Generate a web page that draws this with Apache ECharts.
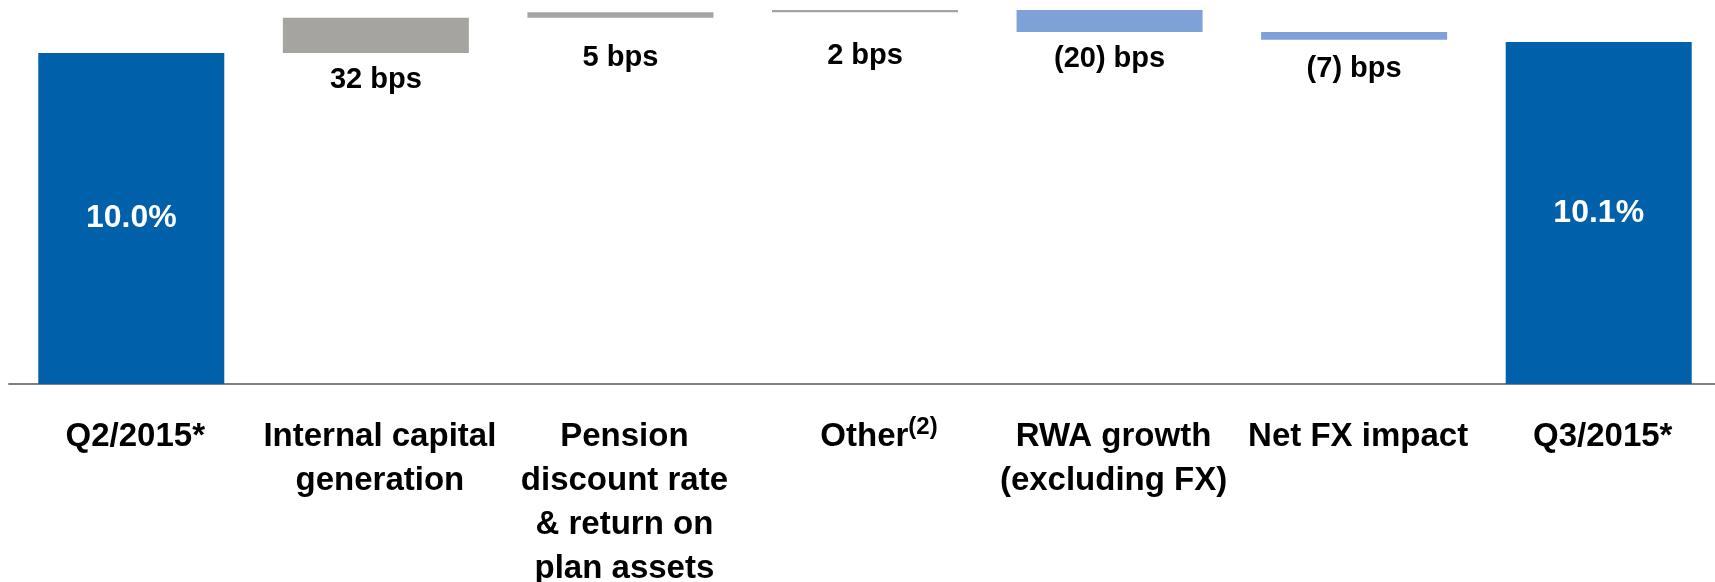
<!DOCTYPE html>
<html>
<head>
<meta charset="utf-8">
<script src="https://cdn.jsdelivr.net/npm/echarts@6/dist/echarts.min.js"></script>
<style>
  html, body { margin: 0; padding: 0; background: #ffffff; }
  #chart { width: 1715px; height: 582px; }
</style>
</head>
<body>
<div id="chart"></div>
<script>
// CET1 ratio bridge, Q2/2015 to Q3/2015
const categories = [
  'Q2/2015*',
  'Internal capital\ngeneration',
  'Pension\ndiscount rate\n& return on\nplan assets',
  'Other',
  'RWA growth\n(excluding FX)',
  'Net FX impact',
  'Q3/2015*'
];
const footnotes = { 'Other': '(2)' };

// opening and closing ratios (%)
const openingRatio = 10.0;
const closingRatio = 10.1;

// movements between the two quarters, in basis points
const movementsBps = [32, 5, 2, -20, -7];

// ---- build the floating waterfall from the arrays above ----
const COLORS = { total: '#0060a9', up: '#a5a4a1', down: '#7ea1d7' };
const FONT = 'Liberation Sans, Arial, sans-serif';
// how far each movement label sits below its bar
const labelGap = [13, 26, 29, 12, 15];

const baseData = [0];
const barData = [{
  value: openingRatio,
  itemStyle: { color: COLORS.total },
  label: {
    show: true, position: 'inside', color: '#ffffff',
    fontSize: 32, fontWeight: 'bold', fontFamily: FONT,
    formatter: () => openingRatio.toFixed(1) + '%'
  }
}];

let level = openingRatio;
movementsBps.forEach((bps, i) => {
  const delta = bps / 100;
  const next = level + delta;
  baseData.push(Math.min(level, next));
  barData.push({
    value: Math.abs(delta),
    itemStyle: { color: bps >= 0 ? COLORS.up : COLORS.down },
    label: {
      show: true, position: 'bottom', distance: labelGap[i],
      color: '#000000', fontSize: 29, fontWeight: 'bold', fontFamily: FONT,
      formatter: () => (bps >= 0 ? bps : '(' + Math.abs(bps) + ')') + ' bps'
    }
  });
  level = next;
});

baseData.push(0);
barData.push({
  value: closingRatio,
  itemStyle: { color: COLORS.total },
  label: {
    show: true, position: 'inside', color: '#ffffff',
    fontSize: 32, fontWeight: 'bold', fontFamily: FONT,
    formatter: () => closingRatio.toFixed(1) + '%'
  }
});

const chart = echarts.init(document.getElementById('chart'), null, { renderer: 'canvas' });
chart.setOption({
  animation: false,
  backgroundColor: '#ffffff',
  grid: {
    left: 9, right: -6, top: 0, bottom: 198,
    containLabel: false,
    outerBoundsMode: 'none'
  },
  xAxis: {
    type: 'category',
    data: categories,
    axisTick: { show: false },
    axisLine: { show: true, lineStyle: { color: '#808080', width: 2 } },
    axisLabel: {
      interval: 0,
      margin: 31,
      color: '#000000',
      fontSize: 33,
      fontWeight: 'bold',
      fontFamily: FONT,
      lineHeight: 44,
      padding: [0, 0, 0, 8],
      formatter: (v) => footnotes[v] ? '{main|' + v + '}{sup|' + footnotes[v] + '}' : v,
      rich: {
        main: {
          fontSize: 33, fontWeight: 'bold', fontFamily: FONT, color: '#000000',
          lineHeight: 44, padding: [0, 0, 0, 20]
        },
        sup: {
          fontSize: 24, fontWeight: 'bold', fontFamily: FONT, color: '#000000',
          lineHeight: 26, verticalAlign: 'top'
        }
      }
    }
  },
  yAxis: {
    type: 'value',
    min: 7,
    max: 10.48,
    show: false,
    splitLine: { show: false }
  },
  series: [
    {
      name: 'base',
      type: 'bar',
      stack: 'bridge',
      barWidth: 186,
      silent: true,
      itemStyle: { color: 'transparent' },
      data: baseData
    },
    {
      name: 'movement',
      type: 'bar',
      stack: 'bridge',
      barWidth: 186,
      data: barData
    }
  ]
});
</script>
</body>
</html>
